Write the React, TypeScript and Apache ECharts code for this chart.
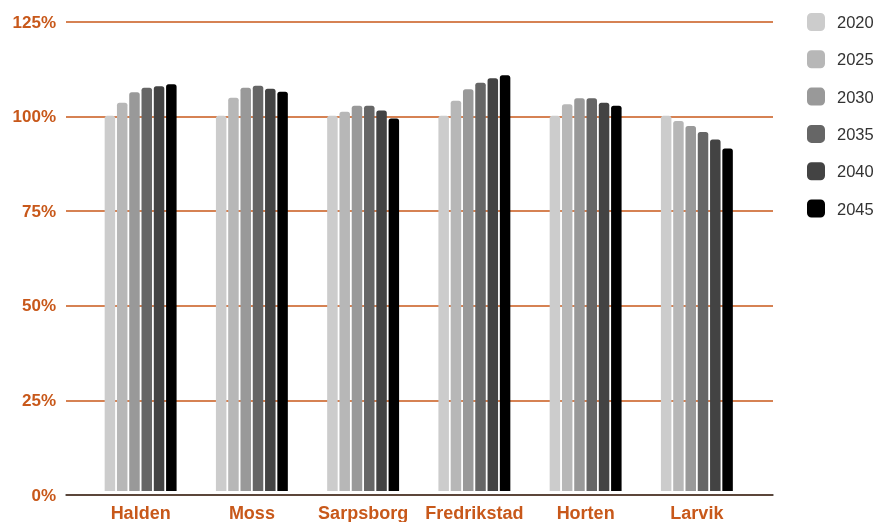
import React, { useEffect, useRef } from "react";
import * as echarts from "echarts";

const categories = ["Halden", "Moss", "Sarpsborg", "Fredrikstad", "Horten", "Larvik"];
const years = ["2020", "2025", "2030", "2035", "2040", "2045"];
const v2020 = [100, 100, 100, 100, 100, 100];
const v2025 = [103.5, 104.8, 101.1, 104.0, 103.1, 98.6];
const v2030 = [106.3, 107.5, 102.7, 107.1, 104.7, 97.3];
const v2035 = [107.5, 108.0, 102.7, 108.8, 104.7, 95.7];
const v2040 = [107.9, 107.2, 101.4, 110.0, 103.5, 93.7];
const v2045 = [108.4, 106.4, 99.3, 110.8, 102.7, 91.3];
const yTicks = [0, 25, 50, 75, 100, 125];
const colors = ["#cccccc", "#b7b7b7", "#999999", "#666666", "#434343", "#000000"];

const seriesValues = [v2020, v2025, v2030, v2035, v2040, v2045];

export default function App() {
  const ref = useRef<HTMLDivElement>(null);
  useEffect(() => {
    if (!ref.current) return;
    const chart = echarts.init(ref.current, null, { renderer: "svg" });
    const orange = "#c8581a";
    chart.setOption({
      animation: false,
      textStyle: { fontFamily: "Liberation Sans, Arial, sans-serif" },
      legend: {
        orient: "vertical",
        left: 802,
        top: 8,
        itemWidth: 18,
        itemHeight: 18,
        itemGap: 19.3,
        icon: "roundRect",
        data: years,
        textStyle: { fontSize: 16.5, color: "#333333", padding: [0, 0, 0, 7] },
      },
      grid: [
        { left: 66, right: 104, top: 22, bottom: 27, containLabel: false },
        { left: 85, right: 124.5, top: 22, bottom: 27, containLabel: false },
      ],
      xAxis: [
        {
          type: "category",
          gridIndex: 0,
          data: categories,
          axisLine: { show: true, lineStyle: { color: "#333333", width: 1.5 } },
          axisTick: { show: false },
          axisLabel: { show: false },
          splitLine: { show: false },
        },
        {
          type: "category",
          gridIndex: 1,
          data: categories,
          axisLine: { show: false },
          axisTick: { show: false },
          axisLabel: {
            color: orange,
            fontWeight: "bold",
            fontSize: 18,
            margin: 13,
            interval: 0,
          },
        },
      ],
      yAxis: [
        {
          type: "value",
          gridIndex: 0,
          min: yTicks[0],
          max: yTicks[yTicks.length - 1],
          interval: 25,
          axisLine: { show: false },
          axisTick: { show: false },
          axisLabel: {
            color: orange,
            fontWeight: "bold",
            fontSize: 17,
            margin: 10,
            formatter: (v: number) => v + "%",
          },
          splitLine: { show: true, lineStyle: { color: orange, width: 1.5 } },
        },
        {
          type: "value",
          gridIndex: 1,
          min: yTicks[0],
          max: yTicks[yTicks.length - 1],
          interval: 25,
          show: false,
          splitLine: { show: false },
        },
      ],
      series: years.map((y, i) => ({
        name: y,
        type: "bar",
        xAxisIndex: 1,
        yAxisIndex: 1,
        data: seriesValues[i],
        barWidth: 10.5,
        barGap: "17%",
        itemStyle: { color: colors[i], borderRadius: [2.5, 2.5, 0, 0] },
      })),
    });
    return () => chart.dispose();
  }, []);
  return (
    <div
      ref={ref}
      style={{ position: "fixed", left: 0, top: 0, width: 877, height: 522 }}
    />
  );
}
